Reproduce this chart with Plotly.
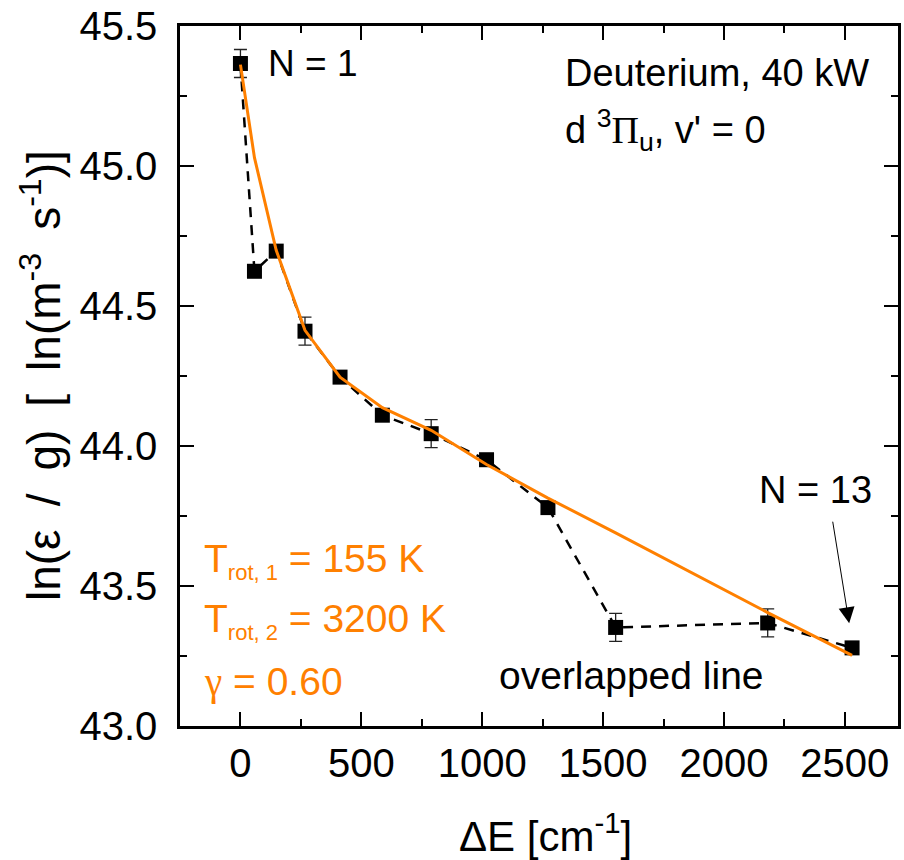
import plotly.graph_objects as go

# Rotational levels N = 1..13 (N = 11 not measured) of D2 d 3Pi_u, v' = 0
delta_E = [0, 58, 148, 267, 412, 587, 789, 1018, 1272, 1552, 2181, 2530]
ln_eps_g = [45.366, 44.624, 44.696, 44.410, 44.246, 44.110, 44.044, 43.951,
            43.780, 43.352, 43.368, 43.279]
ln_err = [0.05, 0.02, 0.02, 0.05, 0.02, 0.02, 0.05, 0.02, 0.02, 0.05, 0.05, 0.02]

# Two-temperature Boltzmann fit evaluated at the same energies
fit_ln = [45.362, 45.030, 44.699, 44.413, 44.246, 44.137, 44.056, 43.934,
          43.814, 43.690, 43.405, 43.2525]

x_ticks = [0, 500, 1000, 1500, 2000, 2500]
y_ticks = [43.0, 43.5, 44.0, 44.5, 45.0, 45.5]

FONT = "Arial, 'Liberation Sans', sans-serif"
SERIF = "'Liberation Serif', 'Times New Roman', serif"
ORANGE = "#FF8000"

fig = go.Figure()

fig.add_trace(go.Scatter(
    x=delta_E, y=ln_eps_g, mode="lines+markers",
    line=dict(color="black", width=2.5, dash="10px,8px"),
    marker=dict(symbol="square", size=15, color="black"),
    error_y=dict(type="data", array=ln_err, visible=True,
                 color="#222222", thickness=1.3, width=6.5),
    hoverinfo="x+y",
))

fig.add_trace(go.Scatter(
    x=delta_E, y=fit_ln, mode="lines",
    line=dict(color=ORANGE, width=3),
    hoverinfo="x+y",
))

axis_common = dict(
    showgrid=False, zeroline=False, showline=True, linecolor="black",
    linewidth=2.5, mirror="ticks", ticks="inside", ticklen=14,
    tickwidth=2, tickcolor="black",
    tickfont=dict(family=FONT, size=40, color="black"),
)

fig.update_xaxes(
    range=[-250, 2720], tickvals=x_ticks, ticktext=[str(v) for v in x_ticks],
    minor=dict(ticks="inside", ticklen=7, tickwidth=2, dtick=250,
               tick0=0, tickcolor="black"),
    ticklabelstandoff=0,
    **axis_common,
)
fig.update_yaxes(
    range=[43.0, 45.5], tickvals=y_ticks,
    ticktext=[f"{v:.1f}" for v in y_ticks],
    minor=dict(ticks="inside", ticklen=7, tickwidth=2, dtick=0.25,
               tick0=43.0, tickcolor="black"),
    ticklabelstandoff=12,
    **axis_common,
)

annotations = []

def label(x, y, text, size=38, color="black", xanchor="left", **kw):
    annotations.append(dict(
        x=x, y=y, xref="x", yref="y", text=text, showarrow=False,
        xanchor=xanchor, yanchor="middle",
        font=dict(family=FONT, size=size, color=color), **kw))

label(104, 45.366, "N = 1", size=37)
label(1336, 45.331, "Deuterium, 40 kW")
label(1336, 45.13,
      f"d <sup>3</sup><span style=\"font-family:{SERIF}\">Π</span>"
      "<sub>u</sub>, v' = 0")
label(2377, 43.842, "N = 13", xanchor="center")
label(1060, 43.181, "overlapped line", size=39)

label(-161, 43.59,
      "T<sub><span style='font-size:22px'>rot, 1</span></sub> = 155 K",
      size=39, color=ORANGE)
label(-161, 43.376,
      "T<sub><span style='font-size:22px'>rot, 2</span></sub> = 3200 K",
      size=39, color=ORANGE)
label(-161, 43.156,
      f"<span style=\"font-family:{SERIF}\">γ</span> = 0.60",
      size=39, color=ORANGE)

# Arrow pointing to the N = 13 level
annotations.append(dict(
    x=2518, y=43.367, xref="x", yref="y",
    ax=2449, ay=43.735, axref="x", ayref="y",
    text="", showarrow=True, arrowhead=2, arrowsize=3.2, arrowwidth=1,
    arrowcolor="black",
))

# Axis titles
annotations.append(dict(
    x=0.5, y=0, xref="paper", yref="paper", xanchor="center", yanchor="middle",
    xshift=6, yshift=-107, showarrow=False,
    text="ΔE [cm<sup>-1</sup>]",
    font=dict(family=FONT, size=42, color="black"),
))
annotations.append(dict(
    x=0, y=0.5, xref="paper", yref="paper", xanchor="center", yanchor="middle",
    xshift=-139, showarrow=False, textangle=-90,
    text="ln(ε\u2002/\u2002g)\u2002[\u2002ln(m<sup>-3</sup>\u2002s<sup>-1</sup>)]",
    font=dict(family=FONT, size=46, color="black"),
))

fig.update_layout(
    width=904, height=860,
    margin=dict(l=180, r=3, t=26, b=134),
    plot_bgcolor="white", paper_bgcolor="white",
    showlegend=False,
    annotations=annotations,
)

fig.write_html("out.html")
